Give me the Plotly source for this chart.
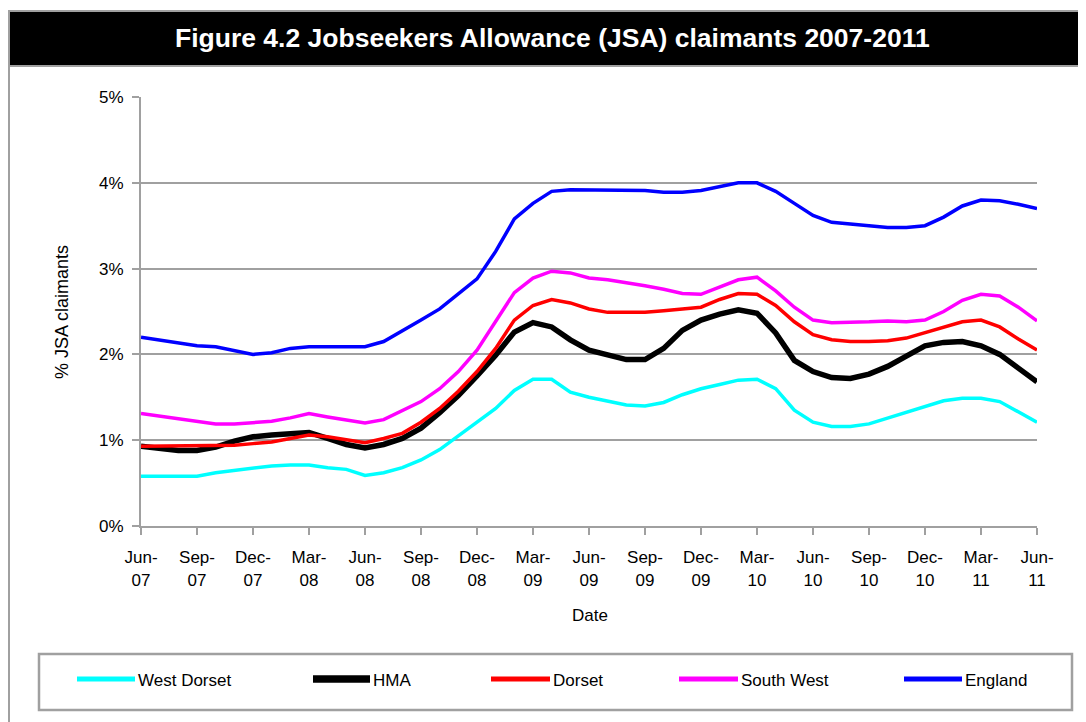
import plotly.graph_objects as go

months = ["Jun-07","Jul-07","Aug-07","Sep-07","Oct-07","Nov-07","Dec-07","Jan-08","Feb-08","Mar-08",
          "Apr-08","May-08","Jun-08","Jul-08","Aug-08","Sep-08","Oct-08","Nov-08","Dec-08","Jan-09",
          "Feb-09","Mar-09","Apr-09","May-09","Jun-09","Jul-09","Aug-09","Sep-09","Oct-09","Nov-09",
          "Dec-09","Jan-10","Feb-10","Mar-10","Apr-10","May-10","Jun-10","Jul-10","Aug-10","Sep-10",
          "Oct-10","Nov-10","Dec-10","Jan-11","Feb-11","Mar-11","Apr-11","May-11","Jun-11"]

west_dorset = [0.58,0.58,0.58,0.58,0.62,0.65,0.68,0.70,0.71,0.71,
               0.68,0.66,0.59,0.62,0.68,0.77,0.89,1.05,1.20,1.37,
               1.58,1.71,1.71,1.56,1.50,1.45,1.41,1.40,1.44,1.53,
               1.60,1.65,1.70,1.71,1.60,1.35,1.21,1.16,1.16,1.19,
               1.26,1.33,1.40,1.46,1.49,1.49,1.45,1.33,1.21]

hma = [0.93,0.90,0.88,0.88,0.92,0.99,1.04,1.06,1.08,1.09,
       1.02,0.95,0.91,0.95,1.02,1.14,1.32,1.52,1.75,1.99,
       2.26,2.37,2.32,2.17,2.05,2.00,1.94,1.94,2.07,2.28,
       2.40,2.47,2.52,2.48,2.25,1.93,1.80,1.73,1.72,1.77,
       1.86,1.98,2.10,2.14,2.15,2.10,2.00,1.84,1.68]

dorset = [0.93,0.93,0.93,0.93,0.94,0.94,0.96,0.98,1.02,1.06,
          1.04,1.00,0.97,1.02,1.08,1.21,1.37,1.57,1.80,2.07,
          2.40,2.57,2.64,2.60,2.53,2.49,2.49,2.49,2.51,2.53,
          2.55,2.64,2.71,2.70,2.57,2.38,2.23,2.17,2.15,2.15,
          2.16,2.19,2.25,2.32,2.38,2.40,2.32,2.18,2.05]

south_west = [1.31,1.28,1.24,1.21,1.19,1.19,1.20,1.22,1.26,1.31,
              1.27,1.23,1.20,1.24,1.34,1.45,1.60,1.80,2.05,2.38,
              2.72,2.89,2.97,2.95,2.89,2.87,2.84,2.80,2.76,2.71,
              2.70,2.78,2.87,2.90,2.74,2.55,2.40,2.37,2.37,2.38,
              2.39,2.38,2.40,2.50,2.63,2.70,2.68,2.55,2.39]

england = [2.20,2.17,2.13,2.10,2.09,2.04,2.00,2.02,2.07,2.09,
           2.09,2.09,2.09,2.15,2.27,2.40,2.53,2.70,2.88,3.20,
           3.58,3.76,3.90,3.92,3.92,3.92,3.92,3.91,3.89,3.89,
           3.91,3.95,4.00,4.00,3.90,3.76,3.62,3.54,3.52,3.50,
           3.48,3.48,3.50,3.60,3.73,3.80,3.79,3.75,3.70]

series_names = ["West Dorset", "HMA", "Dorset", "South West", "England"]
series_colors = ["#00FFFF", "#000000", "#FF0000", "#FF00FF", "#0000FF"]
series_widths = [3.5, 5.5, 3.5, 3.5, 3.5]
series_values = [west_dorset, hma, dorset, south_west, england]

tick_months = months[::3]
tick_text = [m.replace("-", "-<br>") for m in tick_months]

FONT = "Liberation Sans, Arial, sans-serif"
OFF = 8  # page body margin
W, H = 1086 - OFF, 722 - OFF
L, R, T, B = 141 - OFF, 1037 - OFF, 97 - OFF, 526 - OFF
GRAY = "#A0A0A0"

def px(x):
    return (x - OFF - L) / (R - L)

def py(y):
    return (B - (y - OFF)) / (B - T)

fig = go.Figure()
for name, col, wd, vals in zip(series_names, series_colors, series_widths, series_values):
    fig.add_trace(go.Scatter(x=months, y=vals, mode="lines", name=name,
                             line=dict(color=col, width=wd), showlegend=False))

shapes = []
shapes.append(dict(type="rect", xref="paper", yref="paper", x0=px(9), x1=px(1100), y0=py(11), y1=py(740),
                   line=dict(color=GRAY, width=2), fillcolor="rgba(0,0,0,0)", layer="below"))
shapes.append(dict(type="rect", xref="paper", yref="paper", x0=px(9), x1=px(1100), y0=py(11), y1=py(66),
                   line=dict(color=GRAY, width=2), fillcolor="#000000", layer="above"))
shapes.append(dict(type="rect", xref="paper", yref="paper", x0=px(39), x1=px(1072), y0=py(654), y1=py(710),
                   line=dict(color=GRAY, width=2.5), fillcolor="#FFFFFF", layer="above"))

legend_line_x = [(77, 135), (313, 370), (491, 550), (679, 738), (904, 962)]
legend_widths = [5, 7.5, 5, 5, 5]
annotations = []
for (x0, x1), name, col, lw in zip(legend_line_x, series_names, series_colors, legend_widths):
    shapes.append(dict(type="line", xref="paper", yref="paper", x0=px(x0), x1=px(x1), y0=py(679), y1=py(679),
                       line=dict(color=col, width=lw), layer="above"))
    annotations.append(dict(text=name, xref="paper", yref="paper", x=px(x1 + 1), y=py(680),
                            xanchor="left", yanchor="middle", showarrow=False,
                            font=dict(family=FONT, size=17, color="black")))

annotations.append(dict(text="<b>Figure 4.2 Jobseekers Allowance (JSA) claimants 2007-2011</b>",
                        xref="paper", yref="paper", x=px(552), y=py(38), xanchor="center", yanchor="middle",
                        showarrow=False, font=dict(family=FONT, size=26.5, color="white")))
annotations.append(dict(text="% JSA claimants", xref="paper", yref="paper", x=px(62), y=py(312),
                        xanchor="center", yanchor="middle", textangle=-90, showarrow=False,
                        font=dict(family=FONT, size=18, color="black")))
annotations.append(dict(text="Date", xref="paper", yref="paper", x=px(590), y=py(615),
                        xanchor="center", yanchor="middle", showarrow=False,
                        font=dict(family=FONT, size=17, color="black")))

fig.update_layout(
    width=W, height=H,
    margin=dict(l=L, r=W - R, t=T, b=H - B),
    paper_bgcolor="white", plot_bgcolor="white",
    shapes=shapes, annotations=annotations,
    font=dict(family=FONT, size=16, color="black"),
)
fig.update_xaxes(type="category", categoryorder="array", categoryarray=months,
                 range=[0, len(months) - 1], tickmode="array", tickvals=tick_months, ticktext=tick_text,
                 showgrid=False, showline=True, linecolor=GRAY, linewidth=2,
                 ticks="outside", ticklen=7, tickwidth=2, tickcolor=GRAY, ticklabelstandoff=8,
                 tickfont=dict(family=FONT, size=17, color="black"), zeroline=False)
fig.update_yaxes(range=[0, 5], tickmode="linear", tick0=0, dtick=1, ticksuffix="%",
                 showgrid=True, gridcolor=GRAY, gridwidth=2,
                 showline=True, linecolor=GRAY, linewidth=2,
                 ticks="outside", ticklen=7, tickwidth=2, tickcolor=GRAY, ticklabelstandoff=5,
                 tickfont=dict(family=FONT, size=17, color="black"), zeroline=False)

fig.write_html("out.html")
